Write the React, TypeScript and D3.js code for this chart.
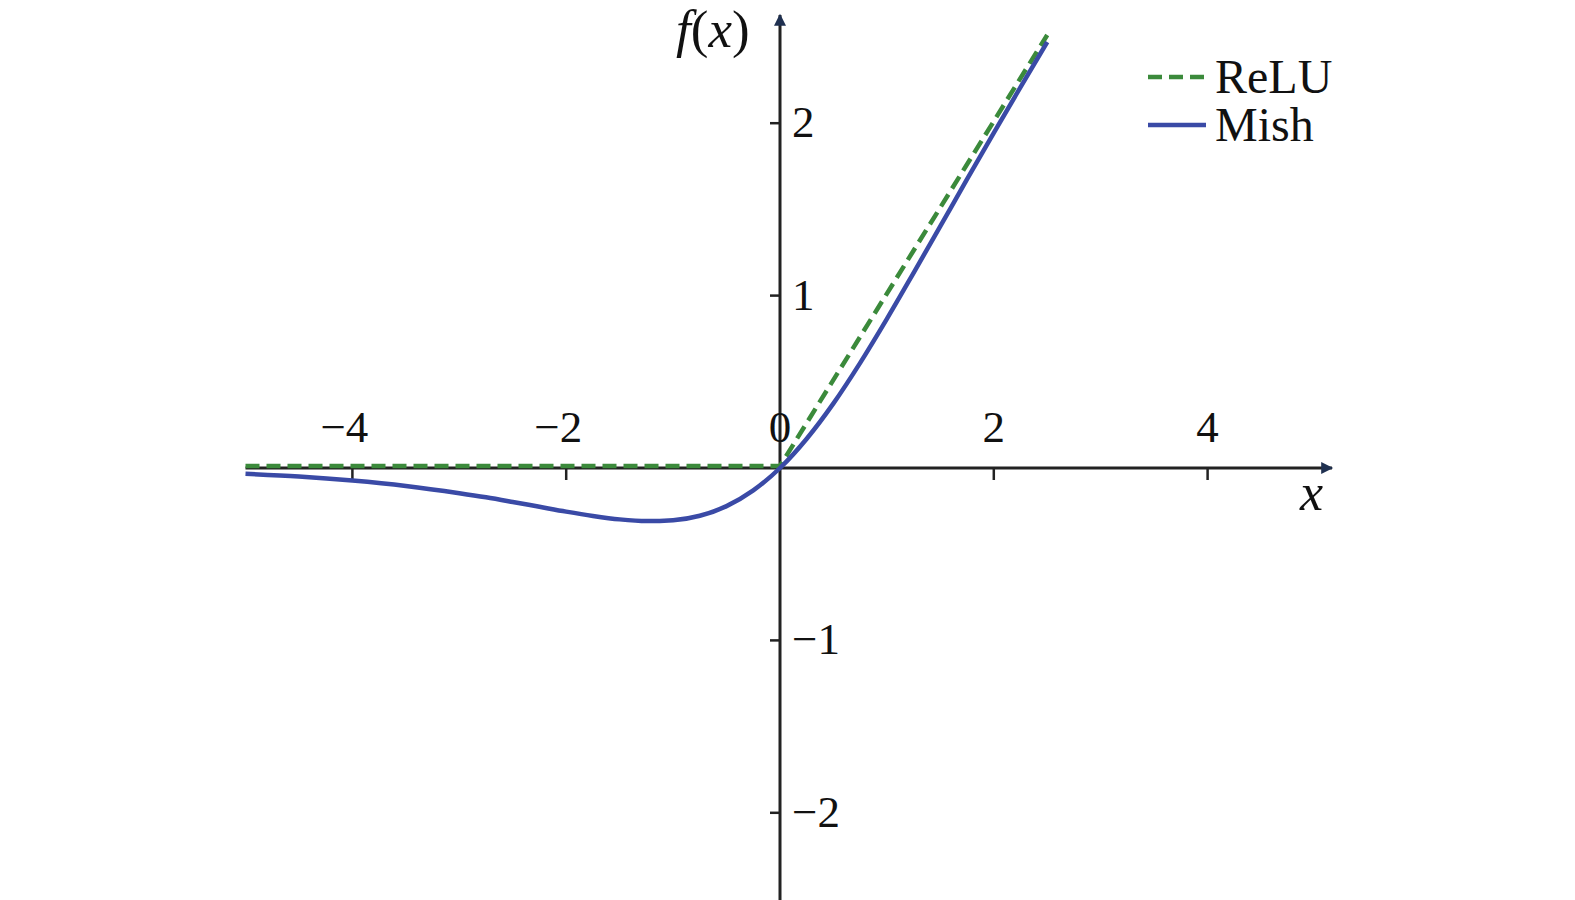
import React, { useRef, useEffect } from 'react'
import * as d3 from "d3";

// Mish activation, values
const mishX = [-5, -4.5, -4, -3.5, -3, -2.75, -2.5, -2.25, -2, -1.75, -1.5, -1.25, -1, -0.75, -0.5, -0.25, 0, 0.25, 0.5, 0.75, 1, 1.25, 1.5, 1.75, 2, 2.25, 2.5];
const mishY = [-0.034, -0.050, -0.073, -0.104, -0.146, -0.170, -0.197, -0.225, -0.253, -0.278, -0.298, -0.308, -0.303, -0.277, -0.221, -0.130, 0, 0.170, 0.375, 0.610, 0.865, 1.132, 1.403, 1.675, 1.944, 2.209, 2.471];

// ReLU, piecewise straight
const reluX = [-5, 0, 2.5];
const reluY = [0, 0, 2.5];

const xTicks = [-4, -2, 0, 2, 4];
const yTicks = [2, 1, -1, -2];

const legendItems = ["ReLU", "Mish"];

function App() {
    const ref = useRef(null);

    useEffect(() => {
        const svg = d3.select(ref.current);
        svg.selectAll("*").remove();

        const font = "'Liberation Serif', 'Times New Roman', serif";
        const green = "#3b8a3b";
        const blue = "#3a4aa6";
        const axisColor = "#222";

        const x = d3.scaleLinear().domain([-5, 5]).range([245.5, 1314.5]);
        const y = d3.scaleLinear().domain([-2.5, 2.5]).range([899, 37]);

        const x0 = x(0), y0 = y(0);

        // arrow heads
        const defs = svg.append("defs");
        defs.append("marker")
            .attr("id", "arrow")
            .attr("viewBox", "0 0 10 10")
            .attr("refX", 9)
            .attr("refY", 5)
            .attr("markerWidth", 16)
            .attr("markerHeight", 12)
            .attr("markerUnits", "userSpaceOnUse")
            .attr("orient", "auto")
            .append("path")
            .attr("d", "M0,0 L10,5 L0,10 Z")
            .attr("fill", "#1f3050");

        // x axis
        svg.append("line")
            .attr("x1", x(-5)).attr("x2", 1332)
            .attr("y1", y0).attr("y2", y0)
            .attr("stroke", axisColor).attr("stroke-width", 3)
            .attr("marker-end", "url(#arrow)");

        // y axis
        svg.append("line")
            .attr("x1", x0).attr("x2", x0)
            .attr("y1", 900).attr("y2", 15)
            .attr("stroke", axisColor).attr("stroke-width", 3)
            .attr("marker-end", "url(#arrow)");

        // x ticks (below axis), labels above
        xTicks.filter(t => t !== 0).forEach(t => {
            svg.append("line")
                .attr("x1", x(t)).attr("x2", x(t))
                .attr("y1", y0).attr("y2", y0 + 12)
                .attr("stroke", axisColor).attr("stroke-width", 2.5);
        });
        xTicks.forEach(t => {
            svg.append("text")
                .attr("x", x(t) + (t < 0 ? -8 : 0))
                .attr("y", y0 - 26)
                .attr("text-anchor", "middle")
                .attr("font-family", font)
                .attr("font-size", 45)
                .attr("fill", "#111")
                .text(t < 0 ? "\u2212" + Math.abs(t) : String(t));
        });

        // y ticks (left of axis), labels right
        yTicks.forEach(t => {
            svg.append("line")
                .attr("x1", x0 - 10).attr("x2", x0)
                .attr("y1", y(t)).attr("y2", y(t))
                .attr("stroke", axisColor).attr("stroke-width", 2.5);
            svg.append("text")
                .attr("x", x0 + 12)
                .attr("y", y(t) + 14)
                .attr("font-family", font)
                .attr("font-size", 45)
                .attr("fill", "#111")
                .text(t < 0 ? "\u2212" + Math.abs(t) : String(t));
        });

        // axis names
        svg.append("text")
            .attr("x", 676).attr("y", 47)
            .attr("font-family", font).attr("font-size", 53)
            .attr("fill", "#111")
            .html("<tspan font-style='italic'>f</tspan>(<tspan font-style='italic'>x</tspan>)");
        svg.append("text")
            .attr("x", 1300).attr("y", 510)
            .attr("font-family", font).attr("font-size", 52)
            .attr("font-style", "italic")
            .attr("fill", "#111")
            .text("x");

        const line = d3.line().x(d => x(d[0])).y(d => y(d[1]));

        // ReLU
        svg.append("path")
            .attr("d", line(reluX.map((v, i) => [v, reluY[i]])))
            .attr("transform", "translate(0,-2)")
            .attr("fill", "none")
            .attr("stroke", green)
            .attr("stroke-width", 4.5)
            .attr("stroke-dasharray", "14 7");

        // Mish
        svg.append("path")
            .attr("d", line.curve(d3.curveMonotoneX)(mishX.map((v, i) => [v, mishY[i]])))
            .attr("fill", "none")
            .attr("stroke", blue)
            .attr("stroke-width", 4.5);

        // legend
        const legend = svg.selectAll(".legend")
            .data(legendItems)
            .enter()
            .append("g")
            .attr("class", "legend")
            .attr("transform", (d, i) => `translate(0, ${i * 48})`);

        legend.append("line")
            .attr("x1", 1148).attr("x2", 1206)
            .attr("y1", 77).attr("y2", 77)
            .attr("stroke", (d, i) => i === 0 ? green : blue)
            .attr("stroke-width", 4.5)
            .attr("stroke-dasharray", (d, i) => i === 0 ? "14 7" : null);

        legend.append("text")
            .attr("x", 1215)
            .attr("y", 93)
            .attr("font-family", font)
            .attr("font-size", 48)
            .attr("fill", "#111")
            .text(d => d);
    }, []);

    return (
        <div style={{ position: "absolute", left: 0, top: 0 }}>
            <svg ref={ref} width={1575} height={900} style={{ display: "block", background: "#fff" }}></svg>
        </div>
    )
}

export default App
